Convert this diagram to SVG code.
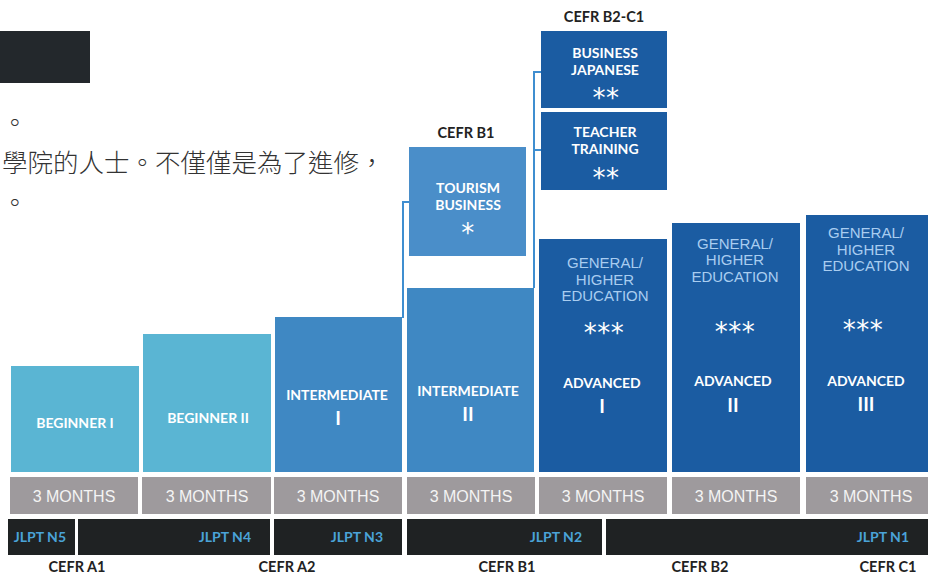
<svg xmlns="http://www.w3.org/2000/svg" width="928" height="574" viewBox="0 0 928 574">
<style>
.b{font-family:Lato,"Liberation Sans",sans-serif;font-weight:700;fill:#fff;text-anchor:middle}
.t{font-size:14px}
.r{font-size:19px}
.star{font-family:"DejaVu Sans",sans-serif;fill:#fff;text-anchor:middle;font-size:26px;letter-spacing:0.5px}
.g{font-family:"Liberation Sans",sans-serif;fill:#a9cdf0;text-anchor:middle;font-size:15px}
.m{font-family:"Liberation Sans",sans-serif;fill:#f4f4f4;text-anchor:middle;font-size:16px}
.j{font-family:Lato,"Liberation Sans",sans-serif;font-weight:700;fill:#4aa3d8;font-size:14px;text-anchor:end}
.c{font-family:Lato,"Liberation Sans",sans-serif;font-weight:700;fill:#222;font-size:14.5px;text-anchor:middle}
.cn{font-family:"Noto Sans CJK TC","Noto Sans CJK SC",sans-serif;font-weight:300;fill:#333;font-size:25.5px}
.lb{fill:#5ab5d3}.md{fill:#3f88c3}.dk{fill:#1b5ca2}.gr{fill:#9e9a9d}.bk{fill:#1f2223}
.con{fill:none;stroke:#3f8ed0;stroke-width:2}
</style>
<rect width="928" height="574" fill="#fff"/>
<g id="header">
<rect x="0" y="31" width="90" height="52" fill="#23282c"/>
<text class="cn" x="2" y="132" font-size="18">。</text>
<text class="cn" x="2" y="172">學院的人士。不僅僅是為了進修，</text>
<text class="cn" x="2" y="212" font-size="18">。</text>
</g>
<g id="connectors">
<polyline class="con" points="409,202 403,202 403,318"/>
<polyline class="con" points="541,72 534,72 534,288"/>
<line class="con" x1="534" y1="150" x2="541" y2="150"/>
</g>
<g id="beginner1"><rect class="lb" x="11" y="366" width="128" height="106"/><text class="b t" x="75" y="428">BEGINNER I</text></g>
<g id="beginner2"><rect class="lb" x="143" y="334" width="128" height="138"/><text class="b t" x="208" y="423">BEGINNER II</text></g>
<g id="intermediate1"><rect class="md" x="275" y="317" width="127" height="155"/><text class="b t" x="337" y="400">INTERMEDIATE</text><text class="b r" x="338" y="425">I</text></g>
<g id="intermediate2"><rect class="md" x="407" y="288" width="127" height="184"/><text class="b t" x="468" y="396">INTERMEDIATE</text><text class="b r" x="468" y="421">II</text></g>
<g id="tourism"><text class="c" x="466" y="138">CEFR B1</text><rect x="409" y="147" width="117" height="109" fill="#4a8ec9"/><text class="b t" x="468" y="193">TOURISM</text><text class="b t" x="468" y="210">BUSINESS</text><text class="star" x="468" y="242">*</text></g>
<g id="bizjapanese"><text class="c" x="604" y="22">CEFR B2-C1</text><rect class="dk" x="541" y="31" width="126" height="77"/><text class="b t" x="605" y="58">BUSINESS</text><text class="b t" x="605" y="75">JAPANESE</text><text class="star" x="606" y="107">**</text></g>
<g id="teacher"><rect class="dk" x="541" y="112" width="126" height="78"/><text class="b t" x="605" y="137">TEACHER</text><text class="b t" x="605" y="154">TRAINING</text><text class="star" x="606" y="187">**</text></g>
<g id="advanced1"><rect class="dk" x="539" y="239" width="128" height="233"/><text class="g" x="605" y="268">GENERAL/</text><text class="g" x="605" y="285">HIGHER</text><text class="g" x="605" y="301">EDUCATION</text><text class="star" x="604" y="342">***</text><text class="b t" x="602" y="388">ADVANCED</text><text class="b r" x="602" y="413">I</text></g>
<g id="advanced2"><rect class="dk" x="672" y="223" width="128" height="249"/><text class="g" x="735" y="249">GENERAL/</text><text class="g" x="735" y="265">HIGHER</text><text class="g" x="735" y="282">EDUCATION</text><text class="star" x="735" y="341">***</text><text class="b t" x="733" y="386">ADVANCED</text><text class="b r" x="733" y="412">II</text></g>
<g id="advanced3"><rect class="dk" x="806" y="215" width="122" height="257"/><text class="g" x="866" y="238">GENERAL/</text><text class="g" x="866" y="255">HIGHER</text><text class="g" x="866" y="271">EDUCATION</text><text class="star" x="863" y="339">***</text><text class="b t" x="866" y="386">ADVANCED</text><text class="b r" x="866" y="411">III</text></g>
<g id="months">
<rect class="gr" x="10" y="477" width="128" height="37"/><text class="m" x="74" y="502">3 MONTHS</text>
<rect class="gr" x="142" y="477" width="129" height="37"/><text class="m" x="207" y="502">3 MONTHS</text>
<rect class="gr" x="274" y="477" width="128" height="37"/><text class="m" x="338" y="502">3 MONTHS</text>
<rect class="gr" x="407" y="477" width="128" height="37"/><text class="m" x="471" y="502">3 MONTHS</text>
<rect class="gr" x="539" y="477" width="128" height="37"/><text class="m" x="603" y="502">3 MONTHS</text>
<rect class="gr" x="672" y="477" width="128" height="37"/><text class="m" x="736" y="502">3 MONTHS</text>
<rect class="gr" x="806" y="477" width="122" height="37"/><text class="m" x="871" y="502">3 MONTHS</text>
</g>
<g id="jlpt">
<rect class="bk" x="8" y="519" width="67" height="36"/><text class="j" x="66" y="542">JLPT N5</text>
<rect class="bk" x="78" y="519" width="192" height="36"/><text class="j" x="251" y="542">JLPT N4</text>
<rect class="bk" x="274" y="519" width="128" height="36"/><text class="j" x="383" y="542">JLPT N3</text>
<rect class="bk" x="407" y="519" width="195" height="36"/><text class="j" x="582" y="542">JLPT N2</text>
<rect class="bk" x="606" y="519" width="322" height="36"/><text class="j" x="909" y="542">JLPT N1</text>
</g>
<g id="cefr">
<text class="c" x="77" y="572">CEFR A1</text>
<text class="c" x="287" y="572">CEFR A2</text>
<text class="c" x="507" y="572">CEFR B1</text>
<text class="c" x="700" y="572">CEFR B2</text>
<text class="c" x="888" y="572">CEFR C1</text>
</g>
</svg>
